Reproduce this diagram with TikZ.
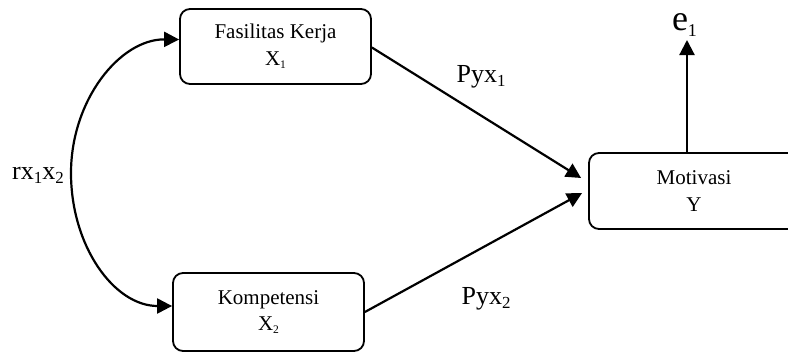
\documentclass[tikz,border=0pt]{standalone}
\usepackage{fontspec}
\setmainfont{Liberation Serif}
\usepackage{graphicx}
\usetikzlibrary{arrows.meta}
\newcommand{\subx}[2][0.55]{\raisebox{-0.15em}{\scalebox{#1}{#2}}}
\begin{document}
\begin{tikzpicture}[x=1pt,y=-1pt,
  box/.style={draw, line width=1.8pt, rounded corners=10pt, minimum width=191pt, minimum height=75pt, align=center, font=\fontsize{21}{26.5}\selectfont, inner sep=0pt},
  lab/.style={font=\fontsize{26}{30}\selectfont, inner sep=0pt},
  tip/.tip={Triangle[length=15pt,width=15pt]},
  arr/.style={line width=2.2pt, -tip}]
\useasboundingbox (0,0) rectangle (788,354);
\clip (0,0) rectangle (788,354);
\node[box] (x1) at (275.5,46.5) {Fasilitas Kerja\\X\subx{1}};
\node[box, minimum height=78pt] (x2) at (268.5,312) {Kompetensi\\X\subx{2}};
\node[box, minimum width=210pt, minimum height=76pt] (y) at (694,191) {Motivasi\\Y};
\coordinate (t1) at ([xshift=-7pt,yshift=13pt]y.west);
\coordinate (t2) at ([xshift=-6pt,yshift=-2pt]y.west);
\draw[arr] ([yshift=-1pt]x1.east) -- (t1);
\draw[arr] (x2.east) -- (t2);
\coordinate (et) at (687,40);
\draw[arr] (y.north -| et) -- (et);
\node[lab, font=\fontsize{36}{40}\selectfont] (e1) at (684.5,25) {e\subx[0.5]{1}};
\node[lab] (p1) at (481,77) {Pyx\subx[0.65]{1}};
\node[lab] (p2) at (486,299) {Pyx\subx[0.65]{2}};
\node[lab] (r) at (38,175) {rx\subx[0.65]{1}x\subx[0.65]{2}};
\coordinate (c1) at ([yshift=7pt]x1.west);
\coordinate (c2) at ([yshift=6pt]x2.west);
\draw[line width=2.2pt, tip-tip] (c1) .. controls (120,39) and (71,100) .. (71,173) .. controls (71,246) and (114,306) .. (c2);
\end{tikzpicture}
\end{document}
